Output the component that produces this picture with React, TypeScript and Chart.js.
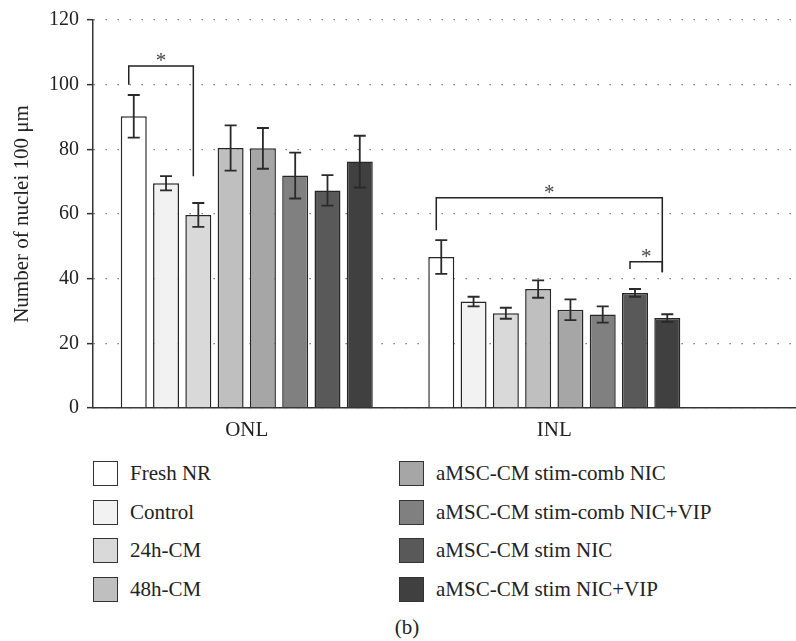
import React, { useEffect, useRef } from "react";
import { Chart, registerables } from "chart.js";

Chart.register(...registerables);

const groups = ["ONL", "INL"];
const seriesLabels = [
  "Fresh NR",
  "Control",
  "24h-CM",
  "48h-CM",
  "aMSC-CM stim-comb NIC",
  "aMSC-CM stim-comb NIC+VIP",
  "aMSC-CM stim NIC",
  "aMSC-CM stim NIC+VIP",
];
const seriesColors = ["#ffffff", "#f2f2f2", "#d9d9d9", "#bfbfbf", "#a6a6a6", "#808080", "#595959", "#404040"];
const onlMeans = [90.2, 69.5, 59.7, 80.4, 80.3, 71.9, 67.3, 76.2];
const onlErrors = [6.6, 2.2, 3.7, 7.0, 6.3, 7.1, 4.7, 8.0];
const inlMeans = [46.7, 32.9, 29.3, 36.8, 30.4, 28.9, 35.6, 27.8];
const inlErrors = [5.2, 1.5, 1.7, 2.7, 3.2, 2.5, 1.2, 1.2];
const yTicks = [0, 20, 40, 60, 80, 100, 120];

// significance brackets: group index, from series, to series, top value, left leg end, right leg end
const bracketGroup = [0, 1, 1];
const bracketFrom = [0, 0, 6];
const bracketTo = [2, 7, 7];
const bracketTop = [105.8, 65, 45.2];
const bracketLeftEnd = [100, 55, 43];
const bracketRightEnd = [71.7, 42, 42];

const FONT = "'Liberation Serif', 'DejaVu Serif', 'Noto Serif', serif";
const W = 796;
const H = 450;

const errorBarPlugin = {
  id: "errorBars",
  afterDatasetsDraw(chart: any) {
    const ctx = chart.ctx;
    const y = chart.scales.y;
    ctx.save();
    ctx.strokeStyle = "#2a2a2a";
    ctx.lineWidth = 1.8;
    chart.data.datasets.forEach((ds: any, i: number) => {
      const meta = chart.getDatasetMeta(i);
      meta.data.forEach((bar: any, j: number) => {
        const v = ds.data[j].y;
        const e = j === 0 ? onlErrors[i] : inlErrors[i];
        const yt = y.getPixelForValue(v + e);
        const yb = y.getPixelForValue(v - e);
        const x = bar.x;
        ctx.beginPath();
        ctx.moveTo(x, yt);
        ctx.lineTo(x, yb);
        ctx.moveTo(x - 6, yt);
        ctx.lineTo(x + 6, yt);
        ctx.moveTo(x - 6, yb);
        ctx.lineTo(x + 6, yb);
        ctx.stroke();
      });
    });
    ctx.restore();
  },
};

const bracketPlugin = {
  id: "brackets",
  afterDatasetsDraw(chart: any) {
    const ctx = chart.ctx;
    const y = chart.scales.y;
    ctx.save();
    ctx.strokeStyle = "#222";
    ctx.lineWidth = 1.5;
    ctx.fillStyle = "#444";
    ctx.font = `21px ${FONT}`;
    ctx.textAlign = "center";
    ctx.textBaseline = "alphabetic";
    bracketGroup.forEach((g, k) => {
      const x1 = chart.getDatasetMeta(bracketFrom[k]).data[g].x - 5;
      const x2 = chart.getDatasetMeta(bracketTo[k]).data[g].x - 5;
      const yt = y.getPixelForValue(bracketTop[k]);
      const yl = y.getPixelForValue(bracketLeftEnd[k]);
      const yr = y.getPixelForValue(bracketRightEnd[k]);
      ctx.beginPath();
      ctx.moveTo(x1, yl);
      ctx.lineTo(x1, yt);
      ctx.lineTo(x2, yt);
      ctx.lineTo(x2, yr);
      ctx.stroke();
      ctx.fillText("*", (x1 + x2) / 2, yt + 1);
    });
    ctx.restore();
  },
};

export default function App() {
  const ref = useRef<HTMLCanvasElement>(null);

  useEffect(() => {
    if (!ref.current) return;
    const datasets = seriesLabels.map((label, i) => ({
      label,
      data: [
        { x: 0, y: onlMeans[i] },
        { x: 1, y: inlMeans[i] },
      ],
      backgroundColor: seriesColors[i],
      borderColor: "#262626",
      borderWidth: 1.5,
      categoryPercentage: 0.84,
      barPercentage: 0.805,
    }));
    const chart = new Chart(ref.current, {
      type: "bar",
      data: { datasets },
      options: {
        responsive: false,
        animation: false,
        layout: { padding: { top: 18, left: 0, right: 0, bottom: 0 } },
        plugins: { legend: { display: false }, tooltip: { enabled: false } },
        scales: {
          x: {
            type: "linear",
            min: -0.5,
            max: 1.786,
            offset: false,
            afterBuildTicks: (s: any) => {
              s.ticks = groups.map((_, i) => ({ value: i }));
            },
            afterFit: (s: any) => {
              s.height = H - 408;
            },
            ticks: {
              callback: (_v: any, i: number) => groups[i],
              font: { family: FONT, size: 21 },
              color: "#222",
              padding: 10,
              maxRotation: 0,
              autoSkip: false,
            },
            grid: { display: false, drawTicks: false, offset: false },
            border: { display: true, color: "#333", width: 1.5 },
          },
          y: {
            min: 0,
            max: 120,
            afterBuildTicks: (s: any) => {
              s.ticks = yTicks.map((v) => ({ value: v }));
            },
            afterFit: (s: any) => {
              s.width = 93;
            },
            ticks: {
              font: { family: FONT, size: 20 },
              color: "#222",
              padding: 8,
            },
            grid: {
              color: "#666",
              lineWidth: 1.3,
              drawTicks: true,
              tickLength: 6,
              tickColor: "#333",
              tickWidth: 1.5,
              tickBorderDash: [],
            },
            border: { display: true, color: "#333", width: 1.5, dash: [1.3, 10.7] },
            title: {
              display: true,
              text: "Number of nuclei 100 μm",
              font: { family: FONT, size: 21 },
              color: "#222",
              padding: { top: 10, bottom: 0 },
            },
          },
        },
      },
      plugins: [errorBarPlugin, bracketPlugin],
    } as any);
    return () => chart.destroy();
  }, []);

  const colX = [93, 399];
  const rowY = [461, 499.5, 538, 576.5];

  return (
    <div style={{ position: "absolute", left: 0, top: 0, width: W, height: 641, background: "#fff", fontFamily: FONT }}>
      <canvas ref={ref} width={W} height={H} style={{ position: "absolute", left: 0, top: 0 }} />
      {seriesLabels.map((label, i) => (
        <div
          key={label}
          style={{
            position: "absolute",
            left: colX[Math.floor(i / 4)],
            top: rowY[i % 4],
            height: 25,
            display: "flex",
            alignItems: "center",
            fontSize: 21,
            color: "#222",
            whiteSpace: "nowrap",
          }}
        >
          <span
            style={{
              display: "inline-block",
              width: 25,
              height: 25,
              flex: "none",
              boxSizing: "border-box",
              border: "1.5px solid #333",
              background: seriesColors[i],
              marginRight: 12,
            }}
          />
          <span>{label}</span>
        </div>
      ))}
      <div
        style={{
          position: "absolute",
          left: 0,
          width: 814,
          top: 614,
          textAlign: "center",
          fontSize: 21,
          color: "#222",
          lineHeight: "26px",
        }}
      >
        (b)
      </div>
    </div>
  );
}
